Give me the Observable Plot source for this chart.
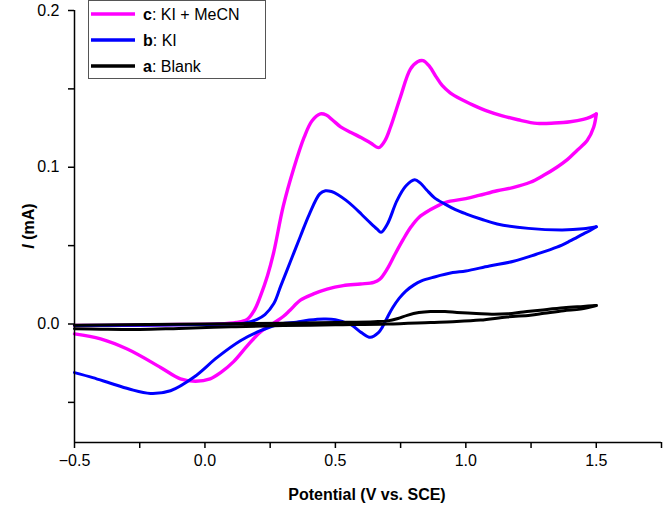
<!DOCTYPE html>
<html>
<head>
<meta charset="utf-8">
<script src="https://cdn.jsdelivr.net/npm/d3@7"></script>
<script src="https://cdn.jsdelivr.net/npm/@observablehq/plot@0.6"></script>
<style>
  html, body { margin: 0; padding: 0; background: #fff; }
  #chart { width: 664px; height: 509px; }
</style>
</head>
<body>
<div id="chart"></div>
<script>
// ---- Data: potential (V vs. SCE), current (mA) ----
const seriesLabels = ["c", "b", "a"];
const seriesNames = [": KI + MeCN", ": KI", ": Blank"];
const seriesColors = ["#ff00ff", "#0000ff", "#000000"];

// c: KI + MeCN
const cForward = [
  [-0.5,-0.001],[-0.3,-0.0008],[-0.1,-0.0003],[0.05,0.0],[0.12,0.001],[0.162,0.003],[0.19,0.009],
  [0.213,0.018],[0.24,0.031],[0.264,0.046],[0.30,0.075],[0.34,0.099],[0.38,0.119],[0.41,0.1295],
  [0.4425,0.134],[0.465,0.1333],[0.49,0.130],[0.52,0.1258],[0.56,0.1222],[0.60,0.1188],[0.635,0.1155],
  [0.666,0.1125],[0.69,0.117],[0.711,0.1255],[0.749,0.1447],[0.787,0.1625],[0.815,0.1673],[0.836,0.168],
  [0.86,0.1645],[0.885,0.158],[0.91,0.152],[0.94,0.1475],[0.98,0.1435],[1.03,0.1395],[1.08,0.136],
  [1.14,0.1328],[1.20,0.1303],[1.273,0.128],[1.34,0.1282],[1.40,0.129],[1.45,0.1305],[1.477,0.132],[1.5,0.134]
];
const cReverse = [
  [1.5,0.134],[1.49,0.1255],[1.465,0.117],[1.426,0.1107],[1.39,0.105],[1.349,0.100],[1.30,0.095],
  [1.247,0.0904],[1.18,0.087],[1.12,0.085],[1.05,0.082],[1.0,0.080],[0.92,0.0775],[0.86,0.0725],
  [0.82,0.068],[0.79,0.062],[0.76,0.054],[0.73,0.045],[0.70,0.0355],[0.67,0.0285],[0.647,0.0265],
  [0.596,0.0255],[0.53,0.0245],[0.468,0.0223],[0.416,0.0192],[0.366,0.0152],[0.326,0.0088],[0.30,0.0048],
  [0.263,0.0005],[0.213,-0.005],[0.162,-0.014],[0.11,-0.024],[0.06,-0.031],[0.02,-0.035],[-0.036,-0.0365],
  [-0.094,-0.035],[-0.17,-0.0277],[-0.298,-0.016],[-0.4,-0.0095],[-0.5,-0.0063]
];

// b: KI
const bForward = [
  [-0.5,-0.001],[0.0,-0.0003],[0.15,0.0005],[0.20,0.003],[0.23,0.006],[0.264,0.013],[0.29,0.024],
  [0.328,0.040],[0.366,0.056],[0.40,0.070],[0.44,0.083],[0.462,0.085],[0.485,0.0845],[0.51,0.0825],
  [0.54,0.079],[0.57,0.0748],[0.60,0.070],[0.634,0.0645],[0.66,0.0605],[0.675,0.0585],[0.70,0.064],
  [0.736,0.0787],[0.77,0.088],[0.804,0.092],[0.825,0.090],[0.85,0.0855],[0.88,0.0805],[0.92,0.0765],
  [0.96,0.073],[1.0,0.0703],[1.06,0.0668],[1.12,0.0638],[1.24,0.061],[1.37,0.060],[1.45,0.0607],[1.5,0.062]
];
const bReverse = [
  [1.5,0.062],[1.475,0.0595],[1.451,0.0575],[1.40,0.053],[1.349,0.049],[1.27,0.0445],[1.183,0.040],
  [1.09,0.037],[1.0,0.0338],[0.95,0.0328],[0.88,0.030],[0.83,0.0275],[0.80,0.0248],[0.77,0.021],
  [0.745,0.0165],[0.72,0.0105],[0.70,0.0045],[0.68,-0.002],[0.665,-0.0055],[0.634,-0.0085],[0.60,-0.0055],
  [0.56,-0.0005],[0.50,0.0028],[0.455,0.0032],[0.40,0.0025],[0.35,0.0012],[0.289,0.0],
  [0.213,-0.0043],[0.136,-0.0107],[0.047,-0.0213],[-0.043,-0.034],[-0.132,-0.0426],[-0.209,-0.0443],
  [-0.29,-0.0415],[-0.362,-0.0378],[-0.43,-0.0342],[-0.5,-0.031]
];

// a: Blank
const aForward = [
  [-0.5,-0.0008],[0.0,0.0],[0.3,0.0005],[0.5,0.001],[0.65,0.0015],[0.70,0.002],[0.74,0.0035],
  [0.775,0.0055],[0.82,0.0073],[0.864,0.008],[0.92,0.0079],[0.966,0.0074],[1.04,0.0067],[1.10,0.0062],
  [1.16,0.0065],[1.22,0.0077],[1.285,0.0088],[1.375,0.0103],[1.45,0.0112],[1.5,0.0118]
];
const aReverse = [
  [1.5,0.0118],[1.44,0.0095],[1.375,0.0085],[1.30,0.0068],[1.247,0.0056],[1.158,0.0045],
  [1.056,0.0025],[0.95,0.0015],[0.864,0.001],[0.70,0.0],[0.5,-0.0005],[0.3,-0.001],[0.1,-0.0018],
  [-0.1,-0.0028],[-0.25,-0.0035],[-0.4,-0.0033],[-0.5,-0.003]
];

const xTicks = [-0.5,-0.25,0,0.25,0.5,0.75,1.0,1.25,1.5,1.75];
const xTickLabels = [-0.5,0,0.5,1.0,1.5];
const yTicks = [-0.05,0,0.05,0.1,0.15,0.2];
const yTickLabels = [0,0.1,0.2];
const xLabel = "Potential (V vs. SCE)";
const yDomain = [-0.0756, 0.2];
const xDomain = [-0.5, 1.75];

// ---- Build ----
const curves = [[cForward, cReverse], [bForward, bReverse], [aForward, aReverse]];
const widths = [3.4, 3.0, 3.0];
const fmt = d3.format(".1f");
const isLabeled = (list) => (d) => list.some(v => Math.abs(v - d) < 1e-9) ? fmt(d) : "";

const lineMarks = curves.flatMap((pair, i) =>
  pair.map(seg => Plot.line(seg.map(([v, a]) => ({V: v, I: a})), {
    x: "V", y: "I", stroke: seriesColors[i], strokeWidth: widths[i],
    curve: "catmull-rom", strokeLinejoin: "round", strokeLinecap: "round"
  }))
);

const font = "'Liberation Sans', Arial, Helvetica, sans-serif";

const chart = Plot.plot({
  width: 664, height: 509,
  marginLeft: 74, marginRight: 3, marginTop: 10, marginBottom: 67,
  x: {domain: xDomain},
  y: {domain: yDomain},
  style: {fontFamily: font, fontSize: "16px", color: "#000", background: "#fff", overflow: "visible"},
  marks: [
    ...lineMarks,
    Plot.axisX({ticks: xTicks, tickFormat: isLabeled(xTickLabels), tickSize: 6, tickPadding: 6, strokeWidth: 1.5, label: null, fontSize: 16}),
    Plot.axisY({ticks: yTicks, tickFormat: isLabeled(yTickLabels), tickSize: 6, tickPadding: 9, strokeWidth: 1.5, label: null, fontSize: 16}),
    Plot.ruleX([xDomain[0]], {stroke: "#000", strokeWidth: 1.5}),
    Plot.ruleY([yDomain[0]], {stroke: "#000", strokeWidth: 1.5})
  ]
});

const svg = d3.select(chart);

// x label
svg.append("text")
  .attr("x", 367).attr("y", 500)
  .attr("text-anchor", "middle")
  .attr("font-family", font).attr("font-size", 16).attr("font-weight", "bold")
  .text(xLabel);

// y label
const yl = svg.append("text")
  .attr("transform", "translate(34,226) rotate(-90)")
  .attr("text-anchor", "middle")
  .attr("font-family", font).attr("font-size", 16).attr("font-weight", "bold");
yl.append("tspan").attr("font-style", "italic").text("I");
yl.append("tspan").text(" (mA)");

// legend
const lg = svg.append("g");
lg.append("rect").attr("x", 88.5).attr("y", 0.5).attr("width", 177).attr("height", 78)
  .attr("fill", "#fff").attr("stroke", "#555").attr("stroke-width", 1);
const rowsY = [14, 40, 66];
seriesLabels.forEach((s, i) => {
  lg.append("line").attr("x1", 91).attr("x2", 135).attr("y1", rowsY[i]).attr("y2", rowsY[i])
    .attr("stroke", seriesColors[i]).attr("stroke-width", 3.5);
  const t = lg.append("text").attr("x", 143).attr("y", rowsY[i]).attr("dy", "0.35em")
    .attr("text-anchor", "start")
    .attr("font-family", font).attr("font-size", 16);
  t.append("tspan").attr("font-weight", "bold").text(s);
  t.append("tspan").text(seriesNames[i]);
});

document.getElementById("chart").appendChild(chart);
</script>
</body>
</html>
